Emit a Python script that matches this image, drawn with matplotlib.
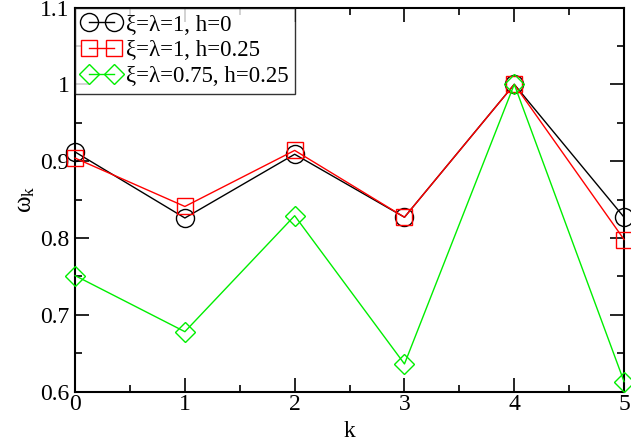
import matplotlib
matplotlib.use('Agg')
import matplotlib.pyplot as plt
from matplotlib.ticker import MultipleLocator

k = [0, 1, 2, 3, 4, 5]
omega_h0 = [0.912, 0.826, 0.909, 0.827, 1.0, 0.827]
omega_h025 = [0.904, 0.841, 0.914, 0.827, 1.0, 0.798]
omega_075 = [0.751, 0.678, 0.829, 0.636, 1.0, 0.613]

labels = ['ξ=λ=1, h=0', 'ξ=λ=1, h=0.25', 'ξ=λ=0.75, h=0.25']

plt.rcParams['font.family'] = ['Liberation Serif', 'DejaVu Serif']
plt.rcParams['mathtext.fontset'] = 'custom'
plt.rcParams['mathtext.rm'] = 'Liberation Serif'

fig = plt.figure(figsize=(6.31, 4.42), dpi=100)
ax = fig.add_axes([0.119, 0.114, 0.870, 0.869])

ax.plot(k, omega_h0, color='black', lw=1, marker='o', ms=13, mfc='none', mew=1,
        label=labels[0], clip_on=False, zorder=3)
ax.plot(k, omega_h025, color='red', lw=1, marker='s', ms=12, mfc='none', mew=1,
        label=labels[1], clip_on=False, zorder=3)
ax.plot(k, omega_075, color='#00ee00', lw=1, marker='D', ms=10.5, mfc='none', mew=1,
        label=labels[2], clip_on=False, zorder=3)

ax.set_xlim(0, 5)
ax.set_ylim(0.6, 1.1)
ax.xaxis.set_major_locator(MultipleLocator(1))
ax.xaxis.set_minor_locator(MultipleLocator(0.5))
ax.yaxis.set_minor_locator(MultipleLocator(0.05))
ax.set_yticks([0.6, 0.7, 0.8, 0.9, 1.0, 1.1])
ax.set_yticklabels(['0.6', '0.7', '0.8', '0.9', '1', '1.1'])
ax.tick_params(which='both', direction='in', top=True, right=True, labelsize=17, width=1.2)
ax.tick_params(axis='y', pad=4)
ax.tick_params(axis='x', pad=2)
ax.tick_params(which='major', length=10)
ax.tick_params(which='minor', length=5)
for s in ax.spines.values():
    s.set_linewidth(1.5)

ax.set_xlabel('k', fontsize=17, labelpad=4)
ax.set_ylabel(r'$\mathregular{ω_k}$', fontsize=18, labelpad=2)

leg = ax.legend(loc='upper left', numpoints=2, fontsize=16.5, frameon=True, fancybox=False,
                borderaxespad=0, handlelength=1.7, handletextpad=0.2, borderpad=0.3,
                labelspacing=0.2)
leg.get_frame().set_edgecolor('black')
leg.get_frame().set_linewidth(1)
leg.set_zorder(5)

fig.savefig('out.png', dpi=100)
